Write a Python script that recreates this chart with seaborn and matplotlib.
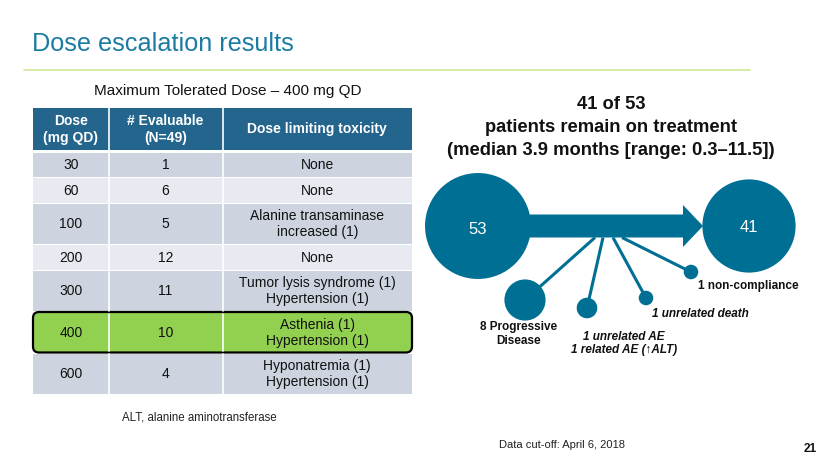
import numpy as np
import pandas as pd
import seaborn as sns
import matplotlib.pyplot as plt
from matplotlib.patches import Rectangle, FancyBboxPatch

sns.set_theme(style="white")
plt.rcParams["font.family"] = ["Liberation Sans", "DejaVu Sans"]

# table data
headers = ["Dose\n(mg QD)", "# Evaluable\n(N=49)", "Dose limiting toxicity"]
doses = [30, 60, 100, 200, 300, 400, 600]
evaluable = [1, 6, 5, 12, 11, 10, 4]
dlt = ["None", "None", "Alanine transaminase\nincreased (1)", "None",
       "Tumor lysis syndrome (1)\nHypertension (1)", "Asthenia (1)\nHypertension (1)",
       "Hyponatremia (1)\nHypertension (1)"]
mtd_dose = 400

# patient flow data
n_start = 53
n_remain = 41
outcome_labels = ["8 Progressive\nDisease", "1 unrelated AE\n1 related AE (\u2191ALT)",
                  "1 unrelated death", "1 non-compliance"]
outcome_counts = [8, 2, 1, 1]

BLUE = "#006f94"
HEADER = "#23658c"
ROW_DARK = "#cdd4df"
ROW_LIGHT = "#e7eaf0"
GREEN = "#92d050"

fig = plt.figure(figsize=(8.3, 4.67), dpi=100)
ax = fig.add_axes([0, 0, 1, 1])
ax.set_xlim(0, 830)
ax.set_ylim(467, 0)
ax.axis("off")

# slide title
ax.text(32, 44, "Dose escalation results", fontsize=18.2, color="#1b7ba3", va="center")
ax.plot([24, 750], [70, 70], color="#cfe89a", lw=1.2)
ax.text(228, 91, "Maximum Tolerated Dose \u2013 400 mg QD", fontsize=11, ha="center", va="center",
        color="#111111")

# table
col_edges = [33, 108.5, 222.5, 412]
ax.add_patch(Rectangle((col_edges[0], 108), col_edges[-1] - col_edges[0], 42, color=HEADER, lw=0))
for c in range(1, 3):
    ax.plot([col_edges[c]] * 2, [108, 150], color="white", lw=1.2)
for c, h in enumerate(headers):
    ax.text((col_edges[c] + col_edges[c + 1]) / 2, 129.5, h, color="white", fontsize=10,
            fontweight="bold", ha="center", va="center", linespacing=1.2)

y = 152.5
for i in range(len(doses)):
    nlines = dlt[i].count("\n") + 1
    hgt = 24.5 if nlines == 1 else 40.5
    hi = doses[i] == mtd_dose
    if hi:
        ax.add_patch(FancyBboxPatch((col_edges[0] + 2, y + 2), col_edges[-1] - col_edges[0] - 4, hgt - 4,
                                    boxstyle="round,pad=2,rounding_size=6", fc=GREEN, ec="black",
                                    lw=1.6, zorder=3))
    else:
        ax.add_patch(Rectangle((col_edges[0], y), col_edges[-1] - col_edges[0], hgt,
                               color=ROW_DARK if i % 2 == 0 else ROW_LIGHT, lw=0))
    for c in range(1, 3):
        ax.plot([col_edges[c]] * 2, [y + (1.5 if hi else 0), y + hgt - (1.5 if hi else 0)],
                color="white", lw=1.2, zorder=4)
    cells = [str(doses[i]), str(evaluable[i]), dlt[i]]
    for c, s in enumerate(cells):
        ax.text((col_edges[c] + col_edges[c + 1]) / 2, y + hgt / 2 + 0.5, s, fontsize=10,
                color="#111111", ha="center", va="center", linespacing=1.15, zorder=5)
    y += hgt + 1

ax.text(122, 417, "ALT, alanine aminotransferase", fontsize=8.3, va="center", color="#222222")

# right panel heading
ax.text(611, 127.5, "41 of 53\npatients remain on treatment\n(median 3.9 months [range: 0.3\u201311.5])",
        fontsize=13.2, fontweight="bold", ha="center", va="center", linespacing=1.45, color="#111111")

# flow arrow between the two nodes
node_x = [478, 749]
node_y = 226
shaft_half, head_half, head_len, tip_x = 11.5, 21, 20, 703
ax.fill([node_x[0], tip_x - head_len, tip_x - head_len, tip_x, tip_x - head_len, tip_x - head_len, node_x[0]],
        [node_y - shaft_half, node_y - shaft_half, node_y - head_half, node_y,
         node_y + head_half, node_y + shaft_half, node_y + shaft_half], color=BLUE, lw=0, zorder=2)

# spokes to the discontinuation bubbles
out_x = [525, 587, 646, 691]
out_y = [300, 308, 298, 272]
spoke_x = [595, 603, 613, 622]
for sx, ox, oy in zip(spoke_x, out_x, out_y):
    ax.plot([sx, ox], [node_y + shaft_half, oy], color=BLUE, lw=2.2, zorder=2, solid_capstyle="butt")

bubbles = pd.DataFrame({
    "x": node_x + out_x,
    "y": [node_y, node_y] + out_y,
    "n": [n_start, n_remain] + outcome_counts,
})
sns.scatterplot(data=bubbles, x="x", y="y", size="n", sizes=(0, 5820), size_norm=(0, n_start),
                color=BLUE, linewidth=0, legend=False, ax=ax, zorder=3)
ax.set_xlim(0, 830)
ax.set_ylim(467, 0)
ax.axis("off")

ax.text(node_x[0], node_y + 3, str(n_start), color="white", fontsize=12, ha="center", va="center", zorder=4)
ax.text(node_x[1], node_y + 1, str(n_remain), color="white", fontsize=12, ha="center", va="center", zorder=4)

lab_pos = [(519, 334, "normal", "center"), (624, 343.5, "italic", "center"),
           (700, 314, "italic", "center"), (698, 286, "normal", "left")]
for lbl, (lx, ly, st, ha) in zip(outcome_labels, lab_pos):
    ax.text(lx, ly, lbl, fontsize=8.5, fontweight="bold", fontstyle=st, ha=ha, va="center",
            linespacing=1.2, color="#111111")

ax.text(499, 445, "Data cut-off: April 6, 2018", fontsize=8, va="center", color="#222222")
ax.text(810, 449, "21", fontsize=8.5, fontweight="bold", ha="center", va="center", color="#111111")

fig.savefig("out.png", dpi=100, facecolor="white")
